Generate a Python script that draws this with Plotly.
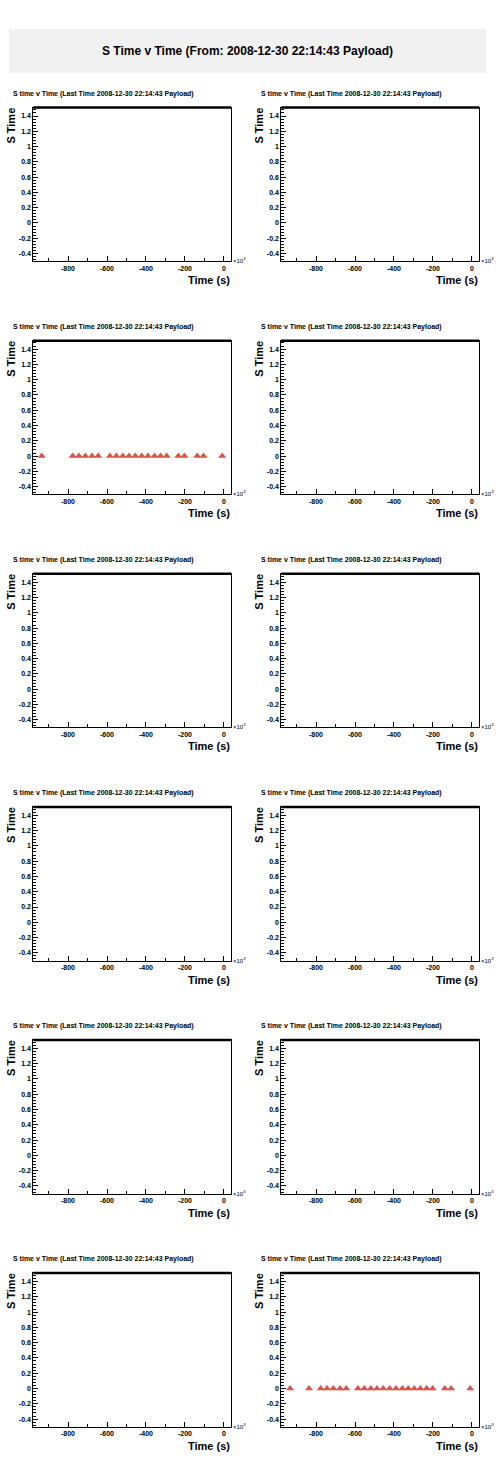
import plotly.graph_objects as go

# ---------------- data ----------------
panel_title = "S time v Time (Last Time 2008-12-30 22:14:43 Payload)"
main_title = "S Time v Time (From: 2008-12-30 22:14:43 Payload)"

x_tickvals = [-800, -600, -400, -200, 0]
x_ticktext = ["-800", "-600", "-400", "-200", "0"]
y_tickvals = [-0.4, -0.2, 0, 0.2, 0.4, 0.6, 0.8, 1.0, 1.2, 1.4]
y_ticktext = ["-0.4", "-0.2", "0", "0.2", "0.4", "0.6", "0.8", "1", "1.2", "1.4"]

# panel 3 (row 2, left) : time in 10^3 s, S time value
time_p3 = [-935, -776, -744, -711, -677, -645, -585, -552, -519, -487, -455,
           -422, -390, -356, -325, -294, -234, -203, -137, -105, -9]
stime_p3 = [0, 0, 0, 0, 0, 0, 0, 0, 0, 0, 0, 0, 0, 0, 0, 0, 0, 0, 0, 0, 0]

# panel 12 (row 6, right)
time_p12 = [-933, -836, -776, -744, -711, -677, -645, -585, -552, -519, -487,
            -455, -422, -390, -357, -327, -296, -265, -233, -202, -139, -107, -9]
stime_p12 = [0, 0, 0, 0, 0, 0, 0, 0, 0, 0, 0, 0, 0, 0, 0, 0, 0, 0, 0, 0, 0, 0, 0]

panel_data = {2: (time_p3, stime_p3), 11: (time_p12, stime_p12)}

# ---------------- layout geometry (pixels in the page) ----------------
W, H = 496, 1472
col_x = [(33.3, 231.0), (281.3, 479.0)]
row_top0, row_bot0, row_step = 107.6, 261.2, 233.1
x_range = [-978, 36]
y_range = [-0.5, 1.51]

FONT = "Liberation Sans, Arial, sans-serif"
MARK = "rgb(214,84,74)"


def px(x):
    return x / W


def py(y):
    return 1 - y / H


fig = go.Figure()
layout = dict(
    width=W, height=H, margin=dict(l=0, r=0, t=0, b=0),
    paper_bgcolor="white", plot_bgcolor="white", showlegend=False,
    font=dict(family=FONT, color="black"),
)
annotations = []
shapes = []

# main title box
shapes.append(dict(type="rect", xref="paper", yref="paper",
                   x0=px(9), x1=px(486), y0=py(72.7), y1=py(29),
                   fillcolor="rgb(241,241,241)", line=dict(width=0), layer="below"))
annotations.append(dict(text="<b>" + main_title + "</b>", xref="paper", yref="paper",
                        x=px(247.5), y=py(51), xanchor="center", yanchor="middle",
                        showarrow=False, font=dict(size=12, family=FONT, color="black")))

for i in range(12):
    r, c = divmod(i, 2)
    x0, x1 = col_x[c]
    top = row_top0 + r * row_step
    bot = row_bot0 + r * row_step
    n = "" if i == 0 else str(i + 1)
    xa, ya = "x" + n, "y" + n

    layout["xaxis" + n] = dict(
        domain=[px(x0), px(x1)], anchor=ya, range=x_range,
        showline=True, linecolor="black", linewidth=1, mirror=True,
        showgrid=False, zeroline=False,
        ticks="inside", ticklen=5, tickwidth=1, tickcolor="black",
        tickvals=x_tickvals, ticktext=x_ticktext,
        tickfont=dict(size=7, family=FONT, weight="bold", color="black"),
        minor=dict(dtick=100, tick0=0, ticks="inside", ticklen=3, tickwidth=1,
                   tickcolor="black", showgrid=False),
        fixedrange=True,
    )
    layout["yaxis" + n] = dict(
        domain=[py(bot), py(top)], anchor=xa, range=y_range,
        showline=True, linecolor="black", linewidth=1, mirror=True,
        showgrid=False, zeroline=False,
        ticks="inside", ticklen=5, tickwidth=1, tickcolor="black",
        tickvals=y_tickvals, ticktext=y_ticktext,
        tickfont=dict(size=7, family=FONT, weight="bold", color="black"),
        minor=dict(dtick=0.04, tick0=0, ticks="inside", ticklen=2.5, tickwidth=1,
                   tickcolor="black", showgrid=False),
        fixedrange=True,
    )

    tx, ty = panel_data.get(i, ([], []))
    fig.add_trace(go.Scatter(
        x=tx, y=ty, xaxis=xa, yaxis=ya, mode="markers",
        marker=dict(symbol="triangle-up", size=7, color=MARK, line=dict(width=0)),
        hoverinfo="skip",
    ))

    # thicker top frame line
    shapes.append(dict(type="line", xref="paper", yref="paper",
                       x0=px(x0), x1=px(x1), y0=py(top), y1=py(top),
                       line=dict(color="black", width=2.5)))
    # panel title
    annotations.append(dict(text="<b>" + panel_title + "</b>", xref="paper", yref="paper",
                            x=px(x0 - 22.3), y=py(top - 14), xanchor="left", yanchor="middle",
                            showarrow=False, font=dict(size=7, family=FONT, color="black")))
    # y-axis title
    annotations.append(dict(text="<b>S Time</b>", xref="paper", yref="paper",
                            x=px(x0 - 22.3), y=py(top - 1), xanchor="center", yanchor="top",
                            textangle=-90, showarrow=False, borderpad=0,
                            font=dict(size=11, family=FONT, color="black")))
    # x-axis title
    annotations.append(dict(text="<b>Time (s)</b>", xref="paper", yref="paper",
                            x=px(x1 + 1), y=py(bot + 19), xanchor="right", yanchor="middle",
                            showarrow=False, font=dict(size=11, family=FONT, color="black")))
    # exponent label
    annotations.append(dict(text="×10<sup>3</sup>", xref="paper", yref="paper",
                            x=px(x1 + 0.5), y=py(bot - 1), xanchor="left", yanchor="middle",
                            showarrow=False, borderpad=0,
                            font=dict(size=6, family=FONT, color="black")))

layout["annotations"] = annotations
layout["shapes"] = shapes
fig.update_layout(**layout)
fig.write_html(
    "out.html",
    default_width=f"{W}px",
    default_height=f"{H}px",
    config={"displayModeBar": False, "staticPlot": True},
    post_script="document.body.style.margin='0px';document.body.style.overflow='hidden';",
)
